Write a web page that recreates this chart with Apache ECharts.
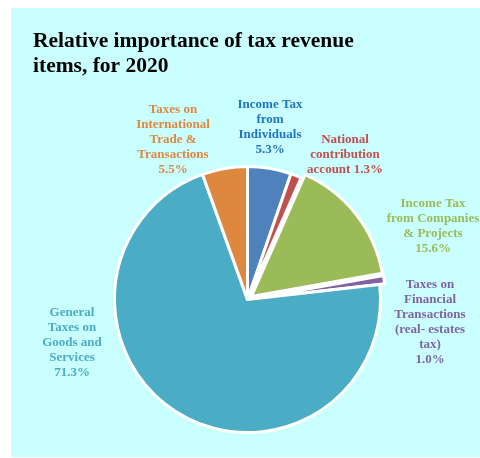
<!DOCTYPE html>
<html>
<head>
<meta charset="utf-8">
<script src="https://cdn.jsdelivr.net/npm/echarts@6/dist/echarts.min.js"></script>
<style>
  html, body { margin: 0; padding: 0; background: #ffffff; }
  #chart { position: absolute; left: 11px; top: 8px; width: 469px; height: 449px; background: #C9FFFF; }
</style>
</head>
<body>
<div id="chart"></div>
<script>
// Tax revenue items, shares of total for 2020 (%)
const categories = [
  'Income Tax\nfrom\nIndividuals',
  'National\ncontribution\naccount',
  'Income Tax\nfrom Companies\n& Projects',
  'Taxes on\nFinancial\nTransactions\n(real- estates\ntax)',
  'General\nTaxes on\nGoods and\nServices',
  'Taxes on\nInternational\nTrade &\nTransactions'
];
const shares = [5.3, 1.3, 15.6, 1.0, 71.3, 5.5];
// slices pulled out from the centre
const pulledOut = [false, false, true, true, false, false];

// presentation
const serif = '"Liberation Serif", "Times New Roman", serif';
const sliceColors = ['#4F81BD', '#C0504D', '#9BBB59', '#8064A2', '#4BACC6', '#DE883F'];
const labelColors = ['#1E74C6', '#C0504D', '#9BBB59', '#8064A2', '#4BACC6', '#DE883F'];
const valueJoin = ['\n', ' ', '\n', '\n', '\n', '\n'];
// label centres in chart pixels
const labelCenters = [
  [259, 119], [334, 147], [422, 218], [419, 314], [61, 335], [162, 132]
];

const pieCenter = [236.5, 291.5];
const pieRadius = [0, 133];

const chart = echarts.init(document.getElementById('chart'), null, { renderer: 'canvas' });

chart.setOption({
  animation: false,
  backgroundColor: '#C9FFFF',
  textStyle: { fontFamily: serif },
  title: {
    text: 'Relative importance of tax revenue\nitems, for 2020',
    left: 17,
    top: 16,
    textStyle: {
      fontFamily: serif,
      fontWeight: 'bold',
      fontSize: 21.5,
      lineHeight: 25,
      color: '#000000'
    }
  },
  series: [
    // the slices, with some pulled out
    {
      type: 'pie',
      center: pieCenter,
      radius: pieRadius,
      startAngle: 90,
      clockwise: true,
      selectedMode: 'multiple',
      selectedOffset: 5,
      itemStyle: { borderColor: '#ffffff', borderWidth: 3 },
      emphasis: { disabled: true },
      label: { show: false },
      labelLine: { show: false },
      data: categories.map((name, i) => ({
        name: name,
        value: shares[i],
        selected: pulledOut[i],
        itemStyle: { color: sliceColors[i] }
      }))
    },
    // data labels for the same slices
    {
      type: 'pie',
      silent: true,
      center: pieCenter,
      radius: pieRadius,
      startAngle: 90,
      clockwise: true,
      selectedMode: false,
      itemStyle: { color: 'rgba(0,0,0,0)', borderWidth: 0 },
      emphasis: { disabled: true },
      labelLine: { show: false },
      label: {
        show: true,
        position: 'inside',
        align: 'center',
        fontFamily: serif,
        fontWeight: 'bold',
        fontSize: 13,
        lineHeight: 15,
        formatter: p => p.name + valueJoin[p.dataIndex] + p.value.toFixed(1) + '%'
      },
      labelLayout: p => ({
        x: labelCenters[p.dataIndex][0],
        y: labelCenters[p.dataIndex][1],
        align: 'center',
        verticalAlign: 'middle',
        hideOverlap: false
      }),
      data: categories.map((name, i) => ({
        name: name,
        value: shares[i],
        label: { color: labelColors[i] }
      }))
    }
  ]
});
</script>
</body>
</html>
